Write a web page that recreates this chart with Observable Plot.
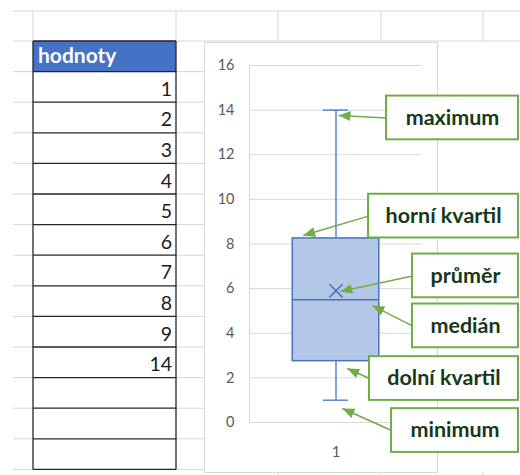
<!DOCTYPE html>
<html>
<head>
<meta charset="utf-8">
<script src="https://cdn.jsdelivr.net/npm/d3@7"></script>
<script src="https://cdn.jsdelivr.net/npm/@observablehq/plot@0.6"></script>
<style>
  html, body { margin: 0; padding: 0; background: #fff; }
  body { position: relative; width: 520px; height: 475px; overflow: hidden; font-family: Lato, "Open Sans", sans-serif; }
  #sheet { position: absolute; left: 0; top: 0; }
  #frame { position: absolute; left: 204px; top: 42px; width: 232px; height: 429px; background: #fff; border: 1px solid #d9d9d9; }
  #chart { position: absolute; left: 204px; top: 42px; }
</style>
</head>
<body>
<div id="sheet"></div>
<div id="frame"></div>
<div id="chart"></div>
<script>
// Worksheet column and its values
const columnTitle = "hodnoty";
const values = [1, 2, 3, 4, 5, 6, 7, 8, 9, 14];
const emptyRows = 3;

// Box plot category and value axis ticks
const categories = ["1"];
const yTicks = [0, 2, 4, 6, 8, 10, 12, 14, 16];

// Callout texts and the statistic each one points at
const calloutLabels = ["maximum", "horní kvartil", "průměr", "medián", "dolní kvartil", "minimum"];
const calloutStats = ["max", "q3", "mean", "median", "q1", "min"];

// ---- statistics (quartiles computed the exclusive way) ----
const sorted = values.slice().sort((a, b) => a - b);
function quartileExc(s, p) {
  const h = p * (s.length + 1);
  const lo = Math.floor(h);
  return s[lo - 1] + (h - lo) * (s[lo] - s[lo - 1]);
}
const q1 = quartileExc(sorted, 0.25);
const q3 = quartileExc(sorted, 0.75);
const iqr = q3 - q1;
const inside = sorted.filter(v => v >= q1 - 1.5 * iqr && v <= q3 + 1.5 * iqr);
const stats = {
  min: d3.min(inside),
  q1,
  median: d3.median(sorted),
  mean: d3.mean(sorted),
  q3,
  max: d3.max(inside)
};

// ---- worksheet background ----
const svg = d3.select("#sheet").append("svg").attr("width", 520).attr("height", 475);
const gridColor = "#d6d6d6";
const rowTop = 41, rowH = 30.6, colL = 33, colR = 176;
const nRows = 1 + values.length + emptyRows;
const line = (x1, y1, x2, y2, stroke, w) =>
  svg.append("line").attr("x1", x1).attr("y1", y1).attr("x2", x2).attr("y2", y2)
     .attr("stroke", stroke).attr("stroke-width", w);

[11, 41].forEach(y => line(13, y, 520, y, gridColor, 1));
[colL, colR, 278, 381, 483].forEach(x => line(x, 11, x, 41, gridColor, 1));
[278, 381, 483].forEach(x => line(x, 472, x, 475, gridColor, 1));
for (let k = 1; k <= nRows; k++) {
  const y = rowTop + k * rowH;
  line(13, y, colL, y, gridColor, 1);
  line(colR, y, 204, y, gridColor, 1);
}

// table
svg.append("rect").attr("x", colL).attr("y", rowTop).attr("width", colR - colL).attr("height", rowH)
   .attr("fill", "#4472C4");
svg.append("text").attr("x", colL + 5).attr("y", rowTop + 22)
   .attr("fill", "#fff").attr("font-weight", "bold").attr("font-size", 21)
   .attr("font-family", "Lato, sans-serif").text(columnTitle);
for (let k = 0; k <= nRows; k++) {
  const y = rowTop + k * rowH;
  line(colL, y, colR, y, "#262626", 1.3);
}
line(colL, rowTop, colL, rowTop + nRows * rowH, "#262626", 1.3);
line(colR, rowTop, colR, rowTop + nRows * rowH, "#262626", 1.3);
values.forEach((v, i) => {
  svg.append("text").attr("x", colR - 4).attr("y", rowTop + (i + 2) * rowH - 6.5)
     .attr("text-anchor", "end").attr("fill", "#1a1a1a").attr("font-size", 19.5)
     .attr("font-family", "Lato, sans-serif").text(v);
});

// ---- box plot ----
// callout boxes: left edge, vertical centre, arrow tip (x, offset from the statistic)
const calloutLayout = [
  {left: 1.584, mid: 13.65, tipX: 1.03, tipDy: -0.24},
  {left: 1.376, mid: 9.25, tipX: 0.62, tipDy: 0.13},
  {left: 1.884, mid: 6.57, tipX: 1.05, tipDy: -0.03},
  {left: 1.884, mid: 4.33, tipX: 1.42, tipDy: -0.26},
  {left: 1.387, mid: 1.97, tipX: 1.13, tipDy: -0.33},
  {left: 1.642, mid: -0.36, tipX: 1.075, tipDy: -0.37}
];
const calloutRight = 3.11, calloutHalf = 0.98;
const callouts = calloutLabels.map((label, i) => ({
  label,
  value: stats[calloutStats[i]],
  ...calloutLayout[i]
}));

const boxData = categories.map((c, i) => ({category: c, pos: i + 1, ...stats}));
const blue = "#4472C4";
const green = "#70AD47";

const filledArrow = (color, context) => {
  const m = d3.create("svg:marker")
    .attr("viewBox", "-12 -5 12 10")
    .attr("markerWidth", 12).attr("markerHeight", 10)
    .attr("markerUnits", "userSpaceOnUse")
    .attr("orient", "auto")
    .attr("fill", color).attr("stroke", "none");
  m.append("path").attr("d", "M-12,-5L0,0L-12,5Z");
  return m.node();
};

const chart = Plot.plot({
  width: 316,
  height: 433,
  marginLeft: 45,
  marginRight: 98,
  marginTop: 23,
  marginBottom: 53,
  style: {background: "transparent", overflow: "visible", fontFamily: "Lato, sans-serif"},
  x: {domain: [0, 2], axis: null},
  y: {domain: [0, 16], axis: null},
  marks: [
    Plot.gridY(yTicks, {stroke: "#d9d9d9", strokeOpacity: 1}),
    Plot.ruleX([0], {stroke: "#d9d9d9"}),
    Plot.axisY(yTicks, {tickSize: 0, tickPadding: 15, fontSize: 14.5, color: "#595959", tickFormat: d => d}),
    Plot.text(boxData, {x: "pos", y: 0, text: "category", dy: 30, fontSize: 15, fill: "#595959"}),
    // whiskers
    Plot.ruleX(boxData, {x: "pos", y1: "q3", y2: "max", stroke: blue, strokeWidth: 1.3}),
    Plot.ruleX(boxData, {x: "pos", y1: "min", y2: "q1", stroke: blue, strokeWidth: 1.3}),
    Plot.ruleY(boxData, {y: "max", x1: d => d.pos - 0.145, x2: d => d.pos + 0.145, stroke: blue, strokeWidth: 1.3}),
    Plot.ruleY(boxData, {y: "min", x1: d => d.pos - 0.145, x2: d => d.pos + 0.145, stroke: blue, strokeWidth: 1.3}),
    // box
    Plot.rect(boxData, {x1: d => d.pos - 0.5, x2: d => d.pos + 0.5, y1: "q1", y2: "q3", fill: "#B4C7E7", stroke: blue, strokeWidth: 1.5}),
    Plot.ruleY(boxData, {y: "median", x1: d => d.pos - 0.5, x2: d => d.pos + 0.5, stroke: blue, strokeWidth: 1.5}),
    Plot.dot(boxData, {x: "pos", y: "mean", symbol: "times", r: 6, stroke: blue, strokeWidth: 1.5}),
    // callouts
    Plot.link(callouts, {
      x1: "left", y1: "mid", x2: "tipX", y2: d => d.value + d.tipDy,
      stroke: green, strokeWidth: 1.5, markerEnd: filledArrow
    }),
    Plot.rect(callouts, {
      x1: "left", x2: () => calloutRight,
      y1: d => d.mid - calloutHalf, y2: d => d.mid + calloutHalf,
      fill: "#fff", stroke: green, strokeWidth: 2
    }),
    Plot.text(callouts, {
      x: d => (d.left + calloutRight) / 2, y: "mid", text: "label",
      fontSize: 21.5, fontWeight: "bold", fill: "#17391a"
    })
  ]
});
document.getElementById("chart").append(chart);
</script>
</body>
</html>
